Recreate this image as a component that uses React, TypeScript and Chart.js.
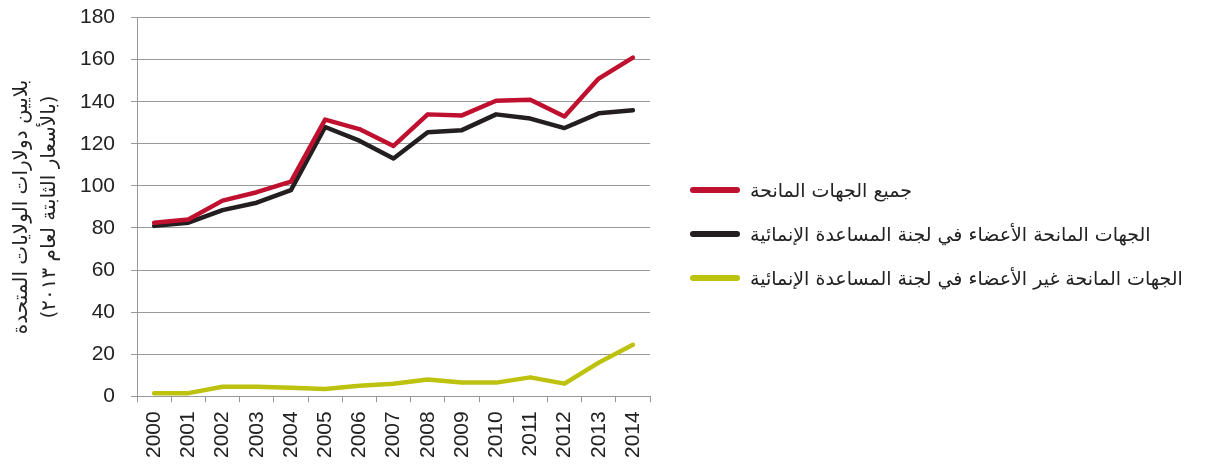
import React, { useEffect, useRef } from "react";
import { Chart, registerables } from "chart.js";

Chart.register(...registerables);

const years = ["2000","2001","2002","2003","2004","2005","2006","2007","2008","2009","2010","2011","2012","2013","2014"];
const allDonors = [82.5, 84, 93, 97, 102, 131.5, 127, 119, 134, 133.5, 140.5, 141, 133, 151, 161];
const dacDonors = [81, 82.5, 88.5, 92, 98, 128, 121.5, 113, 125.5, 126.5, 134, 132, 127.5, 134.5, 136];
const nonDacDonors = [1.5, 1.5, 4.5, 4.5, 4, 3.5, 5, 6, 8, 6.5, 6.5, 9, 6, 16, 24.5];

const seriesNames = [
  "جميع الجهات المانحة",
  "الجهات المانحة الأعضاء في لجنة المساعدة الإنمائية",
  "الجهات المانحة غير الأعضاء في لجنة المساعدة الإنمائية",
];
const seriesColors = ["#c0102f", "#231f20", "#bdc20e"];
const yTitle = ["بلايين دولارات الولايات المتحدة", "(بالأسعار الثابتة لعام ٢٠١٣)"];

export default function App() {
  const ref = useRef<HTMLCanvasElement>(null);
  useEffect(() => {
    const data = [allDonors, dacDonors, nonDacDonors];
    const chart = new Chart(ref.current!, {
      type: "line",
      data: {
        labels: years,
        datasets: data.map((d, i) => ({
          label: seriesNames[i],
          data: d,
          borderColor: seriesColors[i],
          backgroundColor: seriesColors[i],
          borderWidth: 4.5,
          pointRadius: 0,
          tension: 0,
          borderCapStyle: "round" as const,
          borderJoinStyle: "round" as const,
        })),
      },
      options: {
        animation: false,
        responsive: false,
        maintainAspectRatio: false,
        layout: { padding: { left: 8, right: 555, top: 0, bottom: 3 } },
        plugins: { legend: { display: false }, tooltip: { enabled: false } },
        scales: {
          x: {
            offset: true,
            grid: { offset: true, drawOnChartArea: false, drawTicks: true, tickLength: 6, color: "#999" },
            border: { color: "#999", width: 1 },
            ticks: {
              font: { family: "Liberation Sans, Arial", size: 21 },
              color: "#222",
              maxRotation: 90,
              minRotation: 90,
              autoSkip: false,
              padding: 9,
            },
          },
          y: {
            min: 0,
            max: 180,
            ticks: {
              stepSize: 20,
              font: { family: "Liberation Sans, Arial", size: 21 },
              color: "#222",
              padding: 16,
            },
            grid: { color: "#999", tickLength: 6, lineWidth: 1 },
            border: { color: "#999", width: 1 },
            title: {
              display: true,
              text: yTitle,
              font: { family: "DejaVu Sans", size: 20, lineHeight: 1.4 },
              color: "#222",
              padding: { top: 0, bottom: 0 },
            },
          },
        },
      },
    });
    return () => chart.destroy();
  }, []);

  return (
    <div style={{ position: "fixed", left: 0, top: 0, width: 1205, height: 470, background: "#fff", overflow: "hidden" }}>
      <canvas ref={ref} width={1205} height={481} style={{ position: "absolute", left: 0, top: -11 }} />
      {seriesNames.map((n, i) => (
        <div
          key={i}
          style={{
            position: "absolute",
            left: 690,
            top: 175 + i * 44,
            height: 30,
            display: "flex",
            alignItems: "center",
            whiteSpace: "nowrap",
          }}
        >
          <div style={{ width: 50, height: 6, borderRadius: 3, background: seriesColors[i], marginRight: 10 }} />
          <span dir="rtl" style={{ fontFamily: "DejaVu Sans", fontSize: 19, color: "#222" }}>{n}</span>
        </div>
      ))}
    </div>
  );
}
